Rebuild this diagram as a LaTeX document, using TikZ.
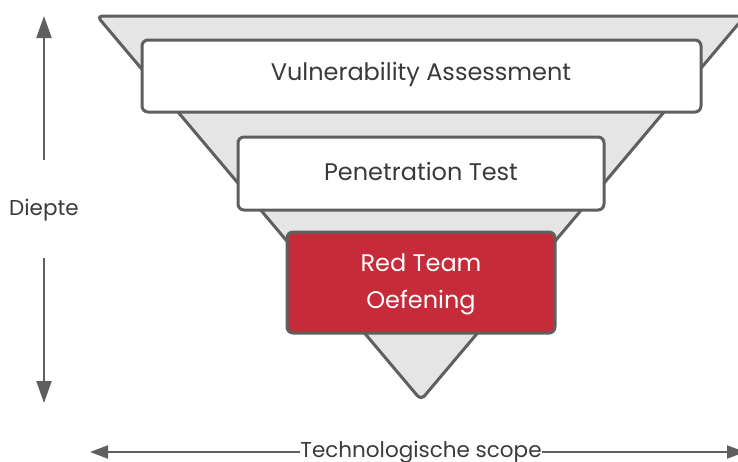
\documentclass[tikz,border=0pt]{standalone}
\usepackage{fontspec}
\setmainfont{Poppins}
\usetikzlibrary{arrows.meta}
\definecolor{edge}{HTML}{5F5F5F}
\definecolor{funnel}{HTML}{E5E5E5}
\definecolor{redteam}{HTML}{C62B3A}
\definecolor{txt}{HTML}{3A3A3A}
\tikzset{
  levelbox/.style={draw=edge, line width=3pt, rounded corners=6pt, fill=white},
  lbl/.style={font=\fontsize{24}{30}\selectfont, text=txt},
  axis/.style={draw=edge, line width=2.2pt, -{Triangle[length=22pt,width=15pt]}},
}
\begin{document}
\begin{tikzpicture}[x=1pt,y=-1pt]
\useasboundingbox (0,0) rectangle (738,461);
\begin{scope}
\clip (0,0) rectangle (738,461);
% funnel
\draw[draw=edge, fill=funnel, line width=3pt, rounded corners=5pt, line join=round]
  (97,16) -- (745,16) -- (421,400) -- cycle;
% level boxes
\draw[levelbox] (142,40) rectangle (701,112);
\node[lbl] (va) at (421,74) {Vulnerability Assessment};
\draw[levelbox] (238,137) rectangle (604,210);
\node[lbl] (pt) at (421,171) {Penetration Test};
\draw[levelbox, fill=redteam] (287,232) rectangle (555,333);
\node[lbl, text=white, align=center] (rt) at (421,284.5) {Red Team\\[7pt]Oefening};
% depth axis
\node[lbl, font=\fontsize{21.5}{26}\selectfont] (diepte) at (44,210) {Diepte};
\coordinate (dtop) at (44,16);
\coordinate (dbot) at (44,403);
\draw[axis] (44,160) -- (dtop);
\draw[axis] (44,258) -- (dbot);
% scope axis
\node[lbl, font=\fontsize{21.5}{26}\selectfont, inner sep=0pt] (scope) at (421,452) {Technologische scope};
\coordinate (sleft) at (90,452);
\coordinate (sright) at (745,452);
\draw[axis, -{Triangle[length=18pt,width=13pt]}] (scope.west) -- (sleft);
\draw[axis, -{Triangle[length=18pt,width=13pt]}] (scope.east) -- (sright);
\end{scope}
\end{tikzpicture}
\end{document}
